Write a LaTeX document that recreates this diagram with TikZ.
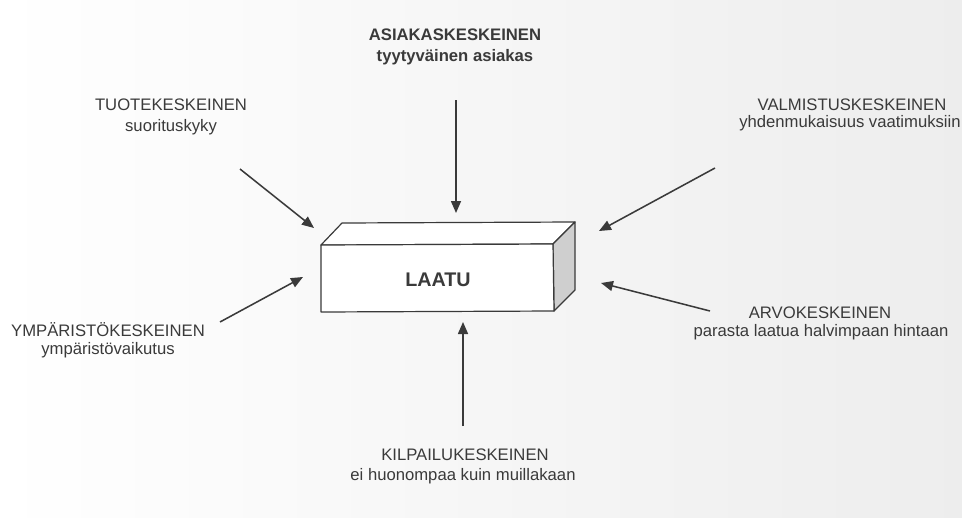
\documentclass[tikz,border=0pt]{standalone}
\usepackage{fontspec}
\setmainfont{Liberation Sans}
\usetikzlibrary{arrows.meta}
\definecolor{ink}{HTML}{3A3A3A}
\definecolor{sideface}{HTML}{CFCFCF}
\tikzset{
  lbl/.style={text=ink, font=\fontsize{12.5}{14}\selectfont, inner sep=0pt},
  lblbold/.style={lbl, font=\fontsize{12.5}{14}\selectfont\bfseries},
  influence/.style={draw=ink, line width=1.15pt, -{Triangle[length=9pt,width=7.5pt]}},
  edge/.style={draw=ink, line width=0.9pt, line join=round},
}
\begin{document}
\begin{tikzpicture}[x=0.75pt, y=-0.75pt]
  % page
  \fill[left color=white, right color=black!7] (0,0) rectangle (962,517);
  \useasboundingbox (0,0) rectangle (962,517);

  % the block
  \coordinate (ftl) at (321,245);
  \coordinate (ftr) at (553,244);
  \coordinate (fbr) at (554,311);
  \coordinate (fbl) at (321,312);
  \coordinate (btl) at (342,223);
  \coordinate (btr) at (575,222);
  \coordinate (bbr) at (575,290);
  \filldraw[edge, fill=white] (ftl) -- (btl) -- (btr) -- (ftr) -- cycle;
  \filldraw[edge, fill=sideface] (ftr) -- (btr) -- (bbr) -- (fbr) -- cycle;
  \filldraw[edge, fill=white] (ftl) -- (ftr) -- (fbr) -- (fbl) -- cycle;
  \node[lbl, font=\fontsize{14.8}{16}\selectfont\bfseries] (laatu) at (438,280) {LAATU};

  % labels
  \node[lblbold] (asiakas) at (455,35) {ASIAKASKESKEINEN};
  \node[lblbold] (asiakas2) at (455,57) {tyytyväinen asiakas};

  \node[lbl] (tuote) at (171,105) {TUOTEKESKEINEN};
  \node[lbl] (tuote2) at (171,127) {suorituskyky};

  \node[lbl] (valmistus) at (852,105) {VALMISTUSKESKEINEN};
  \node[lbl] (valmistus2) at (850,123) {yhdenmukaisuus vaatimuksiin};

  \node[lbl] (ymparisto) at (108,330) {YMPÄRISTÖKESKEINEN};
  \node[lbl] (ymparisto2) at (108,350) {ympäristövaikutus};

  \node[lbl] (arvo) at (820,313) {ARVOKESKEINEN};
  \node[lbl] (arvo2) at (821,332) {parasta laatua halvimpaan hintaan};

  \node[lbl] (kilpailu) at (465,455) {KILPAILUKESKEINEN};
  \node[lbl] (kilpailu2) at (463,476) {ei huonompaa kuin muillakaan};

  % arrows towards the block
  \coordinate (a1) at (456,100);  \coordinate (a2) at (456,213);
  \coordinate (t1) at (240,169);  \coordinate (t2) at (314,228);
  \coordinate (v1) at (715,168);  \coordinate (v2) at (599,231);
  \coordinate (y1) at (220,322);  \coordinate (y2) at (303,277);
  \coordinate (r1) at (710,311);  \coordinate (r2) at (601,283);
  \coordinate (k1) at (463,426);  \coordinate (k2) at (463,322);
  \draw[influence] (a1) -- (a2);
  \draw[influence] (t1) -- (t2);
  \draw[influence] (v1) -- (v2);
  \draw[influence] (y1) -- (y2);
  \draw[influence] (r1) -- (r2);
  \draw[influence] (k1) -- (k2);
\end{tikzpicture}
\end{document}
